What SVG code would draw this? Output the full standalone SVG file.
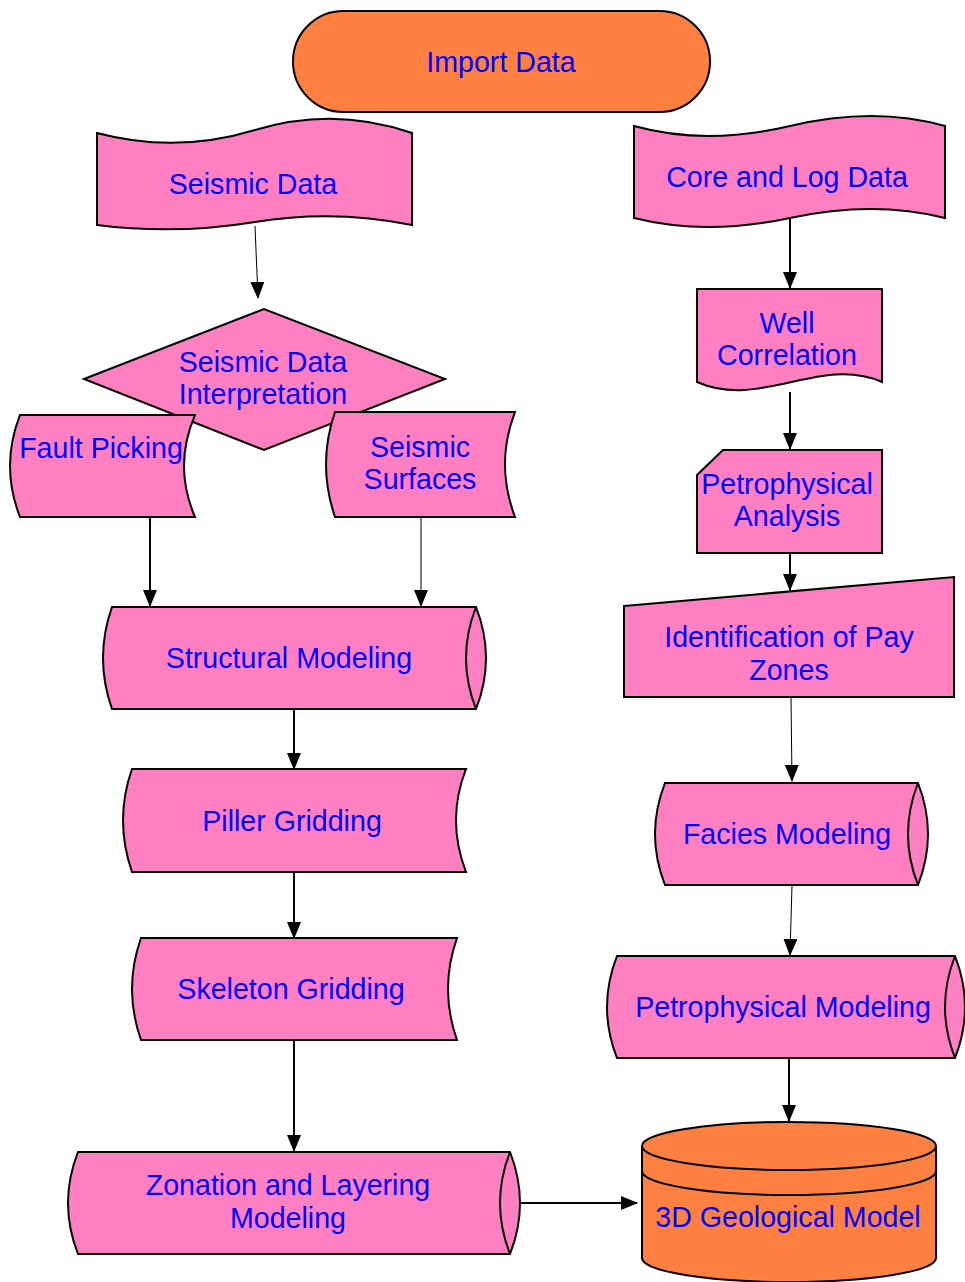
<svg xmlns="http://www.w3.org/2000/svg" width="965" height="1282" viewBox="0 0 965 1282">
<style>
.p{fill:#FF80C0;stroke:#000;stroke-width:2;stroke-linejoin:miter}
.o{fill:#FF8040;stroke:#000;stroke-width:2}
.ln{fill:none;stroke:#000}
.t{font-family:"Liberation Sans",Arial,sans-serif;font-size:28.6px;fill:#0000FF;text-anchor:middle}
.c{stroke-width:2}
.f{stroke-width:1}
</style>
<defs>
<marker id="ah" viewBox="0 0 17 14" refX="16" refY="7" markerWidth="17" markerHeight="14" markerUnits="userSpaceOnUse" orient="auto">
<path d="M0,0 L17,7 L0,14 Z" fill="#000"/>
</marker>
</defs>
<rect width="965" height="1282" fill="#fff"/>

<g id="import-data">
<rect class="o" x="293" y="11" width="417" height="101" rx="50.5" ry="50.5"/>
<text class="t" x="501" y="72">Import Data</text>
</g>

<g id="seismic-data">
<path class="p" d="M97,133 Q176,154 255,130 T412,133 L412,225 Q334,209 255,222 T97,225 Z"/>
<text class="t" x="253" y="194">Seismic Data</text>
</g>

<g id="seismic-interpretation">
<path class="p" d="M84,379 L264,309 L445,379 L264,450 Z"/>
<text class="t" x="263" y="372">Seismic Data</text>
<text class="t" x="263" y="404">Interpretation</text>
</g>

<g id="fault-picking">
<path class="p" d="M20,415 L195,415 Q173,466 195,517 L20,517 Q0,466 20,415 Z"/>
<text class="t" x="101" y="458">Fault Picking</text>
</g>

<g id="seismic-surfaces">
<path class="p" d="M335,412 L515,412 Q495,464 515,517 L335,517 Q317,464 335,412 Z"/>
<text class="t" x="420" y="457">Seismic</text>
<text class="t" x="420" y="489">Surfaces</text>
</g>

<g id="structural-modeling">
<path class="p" d="M112,607 L476,607 Q496,658 476,709 L112,709 Q94,658 112,607 Z"/>
<path class="ln c" d="M476,607 Q456,658 476,709"/>
<text class="t" x="289" y="668">Structural Modeling</text>
</g>

<g id="piller-gridding">
<path class="p" d="M132,769 L466,769 Q446,820 466,872 L132,872 Q114,820 132,769 Z"/>
<text class="t" x="292" y="831">Piller Gridding</text>
</g>

<g id="skeleton-gridding">
<path class="p" d="M141,938 L457,938 Q439,989 457,1040 L141,1040 Q123,989 141,938 Z"/>
<text class="t" x="291" y="999">Skeleton Gridding</text>
</g>

<g id="zonation-layering">
<path class="p" d="M78,1152 L510,1152 Q530,1203 510,1254 L78,1254 Q58,1203 78,1152 Z"/>
<path class="ln c" d="M510,1152 Q490,1203 510,1254"/>
<text class="t" x="288" y="1195">Zonation and Layering</text>
<text class="t" x="288" y="1228">Modeling</text>
</g>

<g id="core-log-data">
<path class="p" d="M634,126 Q706,146 790,126 T945,126 L945,218 Q874,200 790,218 T634,218 Z"/>
<text class="t" x="787" y="187">Core and Log Data</text>
</g>

<g id="well-correlation">
<path class="p" d="M697,289 L882,289 L882,382 C820,355 760,410 697,382 Z"/>
<text class="t" x="787" y="333">Well</text>
<text class="t" x="787" y="365">Correlation</text>
</g>

<g id="petrophysical-analysis">
<path class="p" d="M723,450 L882,450 L882,553 L697,553 L697,475 Z"/>
<text class="t" x="787" y="494">Petrophysical</text>
<text class="t" x="787" y="526">Analysis</text>
</g>

<g id="pay-zones">
<path class="p" d="M624,606 L954,577 L954,697 L624,697 Z"/>
<text class="t" x="789" y="647">Identification of Pay</text>
<text class="t" x="789" y="680">Zones</text>
</g>

<g id="facies-modeling">
<path class="p" d="M665,783 L918,783 Q938,834 918,885 L665,885 Q645,834 665,783 Z"/>
<path class="ln c" d="M918,783 Q898,834 918,885"/>
<text class="t" x="787" y="844">Facies Modeling</text>
</g>

<g id="petrophysical-modeling">
<path class="p" d="M617,956 L955,956 Q975,1007 955,1058 L617,1058 Q597,1007 617,956 Z"/>
<path class="ln c" d="M955,956 Q935,1007 955,1058"/>
<text class="t" x="783" y="1017">Petrophysical Modeling</text>
</g>

<g id="geological-model">
<path class="o" d="M642,1146 L642,1258 A147,24 0 0 0 936,1258 L936,1146 A147,24 0 0 0 642,1146 Z"/>
<path class="ln c" d="M642,1146 A147,24 0 0 0 936,1146"/>
<path class="ln c" d="M642,1171 A147,24 0 0 0 936,1171"/>
<text class="t" x="788" y="1227">3D Geological Model</text>
</g>

<g id="connectors">
<line class="ln f" x1="255" y1="226" x2="258" y2="298" marker-end="url(#ah)"/>
<line class="ln c" x1="150" y1="517" x2="150" y2="606" marker-end="url(#ah)"/>
<line class="ln f" x1="421" y1="517" x2="421" y2="606" marker-end="url(#ah)"/>
<line class="ln c" x1="294" y1="709" x2="294" y2="769" marker-end="url(#ah)"/>
<line class="ln c" x1="294" y1="872" x2="294" y2="938" marker-end="url(#ah)"/>
<line class="ln c" x1="294" y1="1040" x2="294" y2="1151" marker-end="url(#ah)"/>
<line class="ln c" x1="520" y1="1203" x2="637" y2="1203" marker-end="url(#ah)"/>
<line class="ln c" x1="790" y1="218" x2="790" y2="288" marker-end="url(#ah)"/>
<line class="ln c" x1="790" y1="392" x2="790" y2="449" marker-end="url(#ah)"/>
<line class="ln c" x1="790" y1="553" x2="790" y2="590" marker-end="url(#ah)"/>
<line class="ln f" x1="791" y1="697" x2="792" y2="781" marker-end="url(#ah)"/>
<line class="ln f" x1="792" y1="885" x2="790" y2="955" marker-end="url(#ah)"/>
<line class="ln c" x1="789" y1="1058" x2="789" y2="1121" marker-end="url(#ah)"/>
</g>
</svg>
